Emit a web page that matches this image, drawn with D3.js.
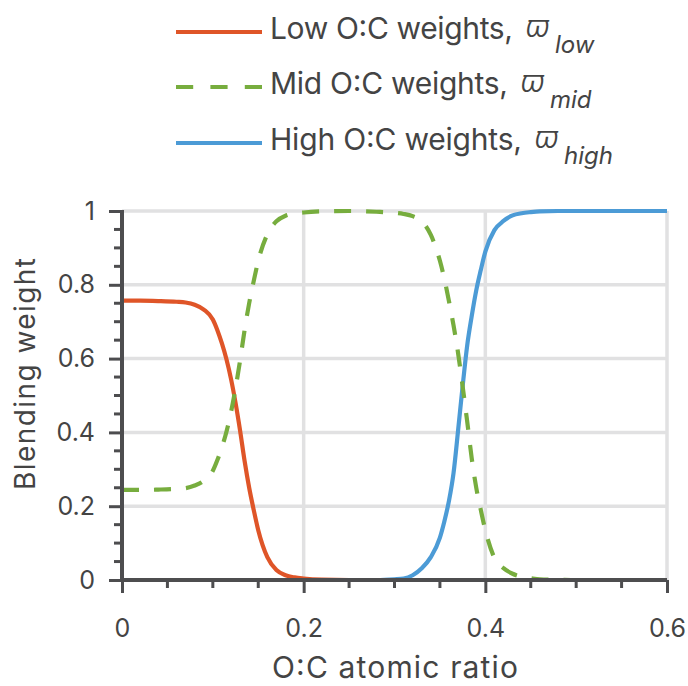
<!DOCTYPE html>
<html>
<head>
<meta charset="utf-8">
<script src="https://cdn.jsdelivr.net/npm/d3@7"></script>
<style>
  html, body { margin: 0; padding: 0; background: #fff; }
  svg { display: block; }
  text { font-family: Inter, "Noto Sans", sans-serif; fill: #444; }
</style>
</head>
<body>
<svg id="chart" width="688" height="686"></svg>
<script>
// ---- data ----
const ocRatio = [0, 0.02, 0.04, 0.06, 0.07, 0.08, 0.09, 0.1, 0.105, 0.11, 0.115, 0.12, 0.125, 0.13, 0.135, 0.14, 0.145, 0.15, 0.16, 0.17, 0.18, 0.19, 0.2, 0.22, 0.25, 0.28, 0.3, 0.31, 0.32, 0.33, 0.34, 0.35, 0.355, 0.36, 0.365, 0.37, 0.375, 0.38, 0.385, 0.39, 0.395, 0.4, 0.41, 0.42, 0.43, 0.44, 0.45, 0.46, 0.48, 0.5, 0.55, 0.6];
const lowWeights = [0.757, 0.757, 0.756, 0.754, 0.752, 0.746, 0.733, 0.706, 0.677, 0.641, 0.598, 0.545, 0.48, 0.405, 0.322, 0.25, 0.19, 0.135, 0.062, 0.027, 0.013, 0.007, 0.004, 0.001, 0, 0, 0, 0, 0, 0, 0, 0, 0, 0, 0, 0, 0, 0, 0, 0, 0, 0, 0, 0, 0, 0, 0, 0, 0, 0, 0, 0];
const midWeights = [0.244, 0.244, 0.245, 0.247, 0.249, 0.256, 0.269, 0.296, 0.325, 0.36, 0.402, 0.455, 0.52, 0.595, 0.678, 0.75, 0.81, 0.865, 0.937, 0.972, 0.987, 0.993, 0.996, 0.999, 1, 0.998, 0.995, 0.992, 0.986, 0.972, 0.935, 0.865, 0.815, 0.755, 0.69, 0.615, 0.525, 0.43, 0.33, 0.25, 0.19, 0.135, 0.06, 0.032, 0.017, 0.009, 0.005, 0.002, 0.001, 0, 0, 0];
const highWeights = [0, 0, 0, 0, 0, 0, 0, 0, 0, 0, 0, 0, 0, 0, 0, 0, 0, 0, 0, 0, 0, 0, 0, 0, 0, 0, 0.002, 0.004, 0.013, 0.032, 0.062, 0.115, 0.16, 0.215, 0.29, 0.405, 0.525, 0.635, 0.715, 0.785, 0.84, 0.89, 0.948, 0.973, 0.988, 0.994, 0.997, 0.999, 1, 1, 1, 1];

const xTicks = [0, 0.2, 0.4, 0.6];
const xTickLabels = ["0", "0.2", "0.4", "0.6"];
const yTicks = [0, 0.2, 0.4, 0.6, 0.8, 1];
const yTickLabels = ["0", "0.2", "0.4", "0.6", "0.8", "1"];
const minorStep = 0.05;

const seriesNames = ["Low O:C weights,", "Mid O:C weights,", "High O:C weights,"];
const seriesSubs = ["low", "mid", "high"];
const xTitle = "O:C atomic ratio";
const yTitle = "Blending weight";

// ---- drawing ----
const svg = d3.select("#chart");
const x = d3.scaleLinear().domain([0, 0.6]).range([122, 667]);
const y = d3.scaleLinear().domain([0, 1]).range([580, 211]);

const C = { low: "#df5528", mid: "#77ad3e", high: "#4c9bd6", grid: "#e1e1e2", axis: "#4d4d4f" };

// grid
const grid = svg.append("g");
grid.selectAll(".gx").data(xTicks.filter(d => d > 0)).join("line")
  .attr("x1", d => x(d)).attr("x2", d => x(d)).attr("y1", y(0)).attr("y2", y(1))
  .attr("stroke", C.grid).attr("stroke-width", 3.5);
grid.selectAll(".gy").data(yTicks.filter(d => d > 0)).join("line")
  .attr("x1", x(0)).attr("x2", x(0.6)).attr("y1", d => y(d)).attr("y2", d => y(d))
  .attr("stroke", C.grid).attr("stroke-width", 3.5);

// lines
const pts = arr => ocRatio.map((v, i) => [v, arr[i]]);
const line = d3.line().x(d => x(d[0])).y(d => y(d[1])).curve(d3.curveMonotoneX);
const plot = svg.append("g");
plot.append("path").attr("d", line(pts(highWeights))).attr("fill", "none")
  .attr("stroke", C.high).attr("stroke-width", 4.2);
plot.append("path").attr("d", line(pts(lowWeights))).attr("fill", "none")
  .attr("stroke", C.low).attr("stroke-width", 4.2);
plot.append("path").attr("d", line(pts(midWeights))).attr("fill", "none")
  .attr("stroke", C.mid).attr("stroke-width", 4.2).attr("stroke-dasharray", "17,15");

// axes
const minorX = d3.range(0, 0.6001, minorStep).filter(v => !xTicks.some(t => Math.abs(t - v) < 1e-6));
const minorY = d3.range(0, 1.0001, minorStep).filter(v => !yTicks.some(t => Math.abs(t - v) < 1e-6));

const xAxis = d3.axisBottom(x).tickValues(xTicks).tickSize(13).tickPadding(0)
  .tickFormat((d, i) => xTickLabels[i]);
const gx = svg.append("g").attr("transform", `translate(0,${y(0)})`).call(xAxis);
gx.select(".domain").remove();
gx.selectAll(".tick line").attr("stroke", C.axis).attr("stroke-width", 3);
gx.selectAll(".tick text").attr("font-size", 25).attr("fill", "#444").attr("font-family", "Inter")
  .attr("dy", null).attr("y", 57);
gx.append("g").selectAll("line").data(minorX).join("line")
  .attr("x1", d => x(d)).attr("x2", d => x(d)).attr("y1", 0).attr("y2", 8)
  .attr("stroke", C.axis).attr("stroke-width", 3);

const yAxis = d3.axisLeft(y).tickValues(yTicks).tickSize(13).tickPadding(14)
  .tickFormat((d, i) => yTickLabels[i]);
const gy = svg.append("g").attr("transform", `translate(${x(0)},0)`).call(yAxis);
gy.select(".domain").remove();
gy.selectAll(".tick line").attr("stroke", C.axis).attr("stroke-width", 3);
gy.selectAll(".tick text").attr("font-size", 25).attr("fill", "#444").attr("font-family", "Inter");
gy.append("g").selectAll("line").data(minorY).join("line")
  .attr("y1", d => y(d)).attr("y2", d => y(d)).attr("x1", 0).attr("x2", -8)
  .attr("stroke", C.axis).attr("stroke-width", 3);

// axis lines
svg.append("line").attr("x1", x(0)).attr("x2", x(0.6)).attr("y1", y(0)).attr("y2", y(0))
  .attr("stroke", C.axis).attr("stroke-width", 4);
svg.append("line").attr("x1", x(0)).attr("x2", x(0)).attr("y1", y(0) + 2).attr("y2", y(1) - 1)
  .attr("stroke", C.axis).attr("stroke-width", 4);

// titles
svg.append("text").attr("x", 395).attr("y", 678).attr("text-anchor", "middle")
  .attr("font-size", 30).attr("textLength", 246).attr("lengthAdjust", "spacing").text(xTitle);
svg.append("text").attr("transform", `translate(35,374) rotate(-90)`)
  .attr("text-anchor", "middle").attr("font-size", 28)
  .attr("textLength", 232).attr("lengthAdjust", "spacing").text(yTitle);

// legend
const legY = [32, 87, 143];
const legTextLen = [243, 238, 252];
const legColors = [C.low, C.mid, C.high];
const leg = svg.append("g");
seriesNames.forEach((name, i) => {
  const ln = leg.append("line").attr("x1", 176).attr("x2", 262).attr("y1", legY[i]).attr("y2", legY[i])
    .attr("stroke", legColors[i]).attr("stroke-width", 4.2);
  if (i === 1) ln.attr("stroke-dasharray", "17.2,17.2");
  const base = legY[i] + 7;
  leg.append("text").attr("x", 270).attr("y", base).attr("font-size", 30)
    .attr("textLength", legTextLen[i]).attr("lengthAdjust", "spacing").text(name);
  const vx = 270 + legTextLen[i] + 13;
  leg.append("text").attr("x", vx).attr("y", base - 2)
    .attr("font-family", "'DejaVu Serif', serif").attr("font-style", "italic")
    .attr("font-weight", 300).attr("font-size", 30).attr("fill", "#333").text("\u03D6");
  leg.append("text").attr("x", vx + 29).attr("y", base + 14).attr("font-size", 24)
    .attr("font-style", "italic").text(seriesSubs[i]);
});
</script>
</body>
</html>
